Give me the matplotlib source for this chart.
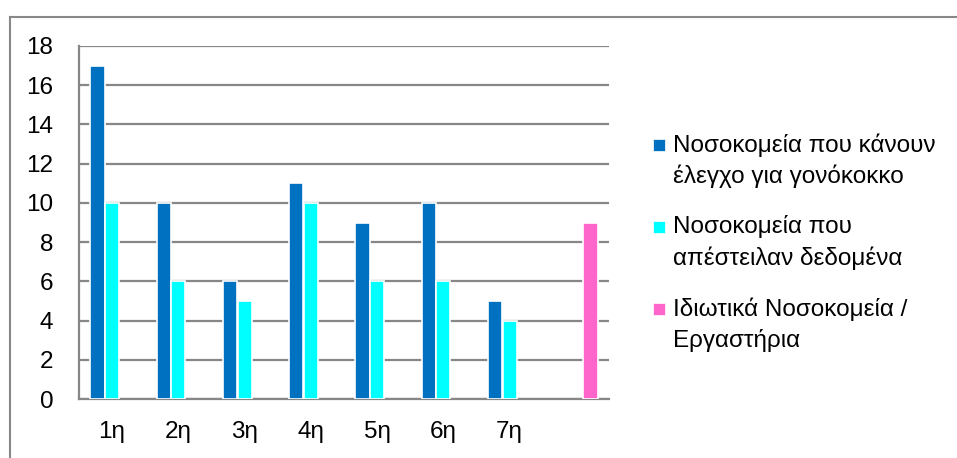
import matplotlib
matplotlib.use("Agg")
import matplotlib.pyplot as plt
import numpy as np
from matplotlib.lines import Line2D
from matplotlib.patches import Rectangle

plt.rcParams['font.family'] = ['Liberation Sans', 'DejaVu Sans']

categories = ["1η", "2η", "3η", "4η", "5η", "6η", "7η", ""]
tested = [17, 10, 6, 11, 9, 10, 5, 0]
sent_data = [10, 6, 5, 10, 6, 6, 4, 0]
private = [0, 0, 0, 0, 0, 0, 0, 9]
series_names = ["Νοσοκομεία που κάνουν\nέλεγχο για γονόκοκκο",
                "Νοσοκομεία που\nαπέστειλαν δεδομένα",
                "Ιδιωτικά Νοσοκομεία /\nΕργαστήρια"]
colors = ["#0070C0", "#00FFFF", "#FF66CC"]

W, H = 957, 458
fig = plt.figure(figsize=(W / 100, H / 100), dpi=100)
ax = fig.add_axes([79 / W, 1 - 399 / H, (609 - 79) / W, (399 - 46) / H])

x = np.arange(len(categories))
off = 0.22
bw = 0.215
for vals, dx, c in zip([tested, sent_data, private], [-off, 0, off], colors):
    xs = [xi + dx for xi, v in zip(x, vals) if v > 0]
    vs = [v for v in vals if v > 0]
    ax.bar(xs, vs, width=bw, color=c, edgecolor="white", linewidth=1.2, zorder=3)

ax.set_xlim(-0.5, len(categories) - 0.5)
ax.set_ylim(0, 18)
ax.set_yticks(np.arange(0, 19, 2))
ax.set_xticks(x)
ax.set_xticklabels(categories)
ax.grid(axis="y", color="#878787", linewidth=1.6, zorder=1)
ax.set_axisbelow(True)
for s in ["top", "right"]:
    ax.spines[s].set_visible(False)
for s in ["left", "bottom"]:
    ax.spines[s].set_color("#878787")
    ax.spines[s].set_linewidth(1.6)
ax.tick_params(axis="both", length=0, labelsize=17.5, colors="black")
ax.tick_params(axis="y", pad=18.5)
ax.tick_params(axis="x", pad=15.5)

# legend (marker aligned with the first line of each entry)
entry_tops = [145, 227, 309]
line_gap = 31.5
for name, c, ytop in zip(series_names, colors, entry_tops):
    fig.add_artist(Rectangle((653 / W, 1 - (ytop + 6) / H), 12 / W, 12 / H,
                             transform=fig.transFigure, facecolor=c,
                             edgecolor="white", linewidth=0.5))
    for i, line in enumerate(name.split("\n")):
        fig.text(673 / W, 1 - (ytop + i * line_gap) / H, line,
                 fontsize=17.5, va="center", ha="left", color="black")

# outer chart border (left and top)
fig.add_artist(Line2D([9.5 / W, 9.5 / W], [0, 1 - 16.5 / H], color="#888888", lw=1.5))
fig.add_artist(Line2D([9.5 / W, 1], [1 - 16.5 / H, 1 - 16.5 / H], color="#888888", lw=1.5))

fig.savefig("out.png", dpi=100)
